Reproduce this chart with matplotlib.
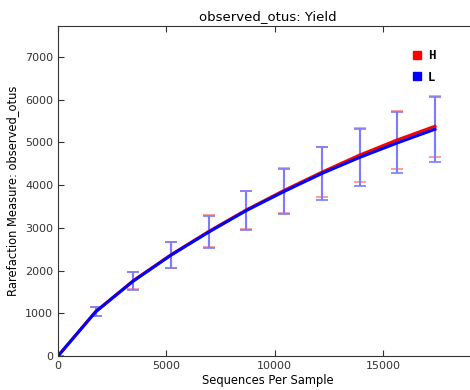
import numpy as np
import matplotlib
matplotlib.use("Agg")
import matplotlib.pyplot as plt
from matplotlib.lines import Line2D

# rarefaction depths and per-group means / errors
depths = [0, 1740, 3480, 5220, 6960, 8700, 10440, 12180, 13920, 15660, 17400]
h_mean = [0, 1040, 1765, 2370, 2915, 3420, 3875, 4300, 4700, 5055, 5375]
h_err = [0, 110, 205, 300, 375, 445, 520, 590, 630, 680, 710]
l_mean = [0, 1035, 1755, 2360, 2900, 3405, 3850, 4270, 4645, 4985, 5305]
l_err = [0, 110, 210, 305, 385, 455, 530, 615, 670, 715, 765]
groups = ["H", "L"]

fig = plt.figure(figsize=(4.7, 3.9), dpi=100)
ax = fig.add_axes([58/470, 34/390, (477-58)/470, 330/390])

ax.errorbar(depths, h_mean, yerr=h_err, color="red", lw=2.2,
            ecolor="#ff8c8c", elinewidth=1.5, capsize=4, capthick=1.2)
ax.errorbar(depths, l_mean, yerr=l_err, color="blue", lw=2.2,
            ecolor="#7c7cff", elinewidth=1.5, capsize=4, capthick=1.2)

ax.set_xlim(0, 19340)
ax.set_ylim(0, 7720)
ax.set_xticks([0, 5000, 10000, 15000])
ax.set_yticks(range(0, 8000, 1000))
ax.tick_params(direction="in", length=4, labelsize=8, top=True, right=True,
               colors="#333333", labelcolor="#333333")
for s in ax.spines.values():
    s.set_color("#333333")

ax.set_title("observed_otus: Yield", fontsize=9.5, pad=4)
ax.set_xlabel("Sequences Per Sample", fontsize=8.3, labelpad=2)
ax.set_ylabel("Rarefaction Measure: observed_otus", fontsize=8.3, labelpad=4)

handles = [Line2D([], [], ls="none", marker="s", ms=6, color=c, mec=c)
           for c in ["red", "blue"]]
leg = ax.legend(handles, groups, loc="upper left", bbox_to_anchor=(399/470, 1 - 39/390),
                bbox_transform=fig.transFigure, frameon=False, numpoints=1,
                handlelength=1, handletextpad=0.4, labelspacing=0.75,
                prop={"family": "Liberation Mono", "weight": "bold", "size": 9})

fig.savefig("out.png", dpi=100)
